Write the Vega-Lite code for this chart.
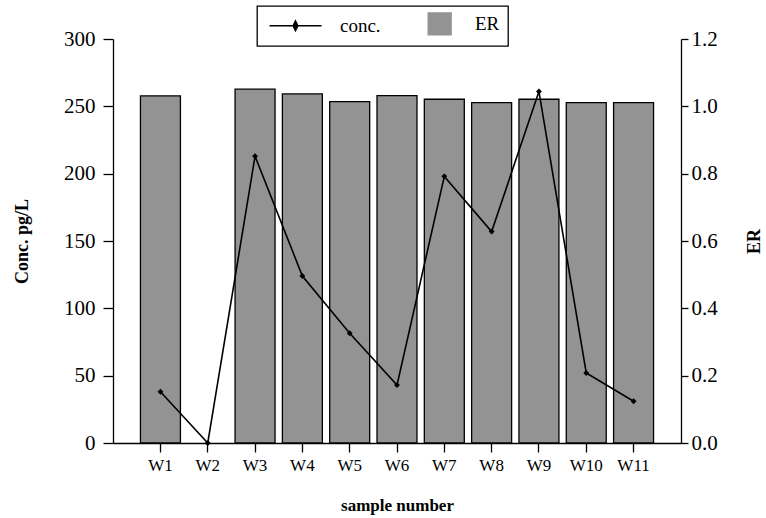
{
  "$schema": "https://vega.github.io/schema/vega-lite/v6.json",
  "width": 568,
  "height": 404,
  "autosize": {"type": "none"},
  "padding": {"left": 113, "top": 39, "right": 85, "bottom": 75},
  "background": "white",
  "config": {
    "view": {"stroke": null},
    "font": "Liberation Serif",
    "axis": {
      "grid": false,
      "domainColor": "black",
      "tickColor": "black",
      "labelColor": "black",
      "titleColor": "black",
      "domainWidth": 1.3,
      "tickWidth": 1.3,
      "labelFont": "Liberation Serif",
      "titleFont": "Liberation Serif"
    }
  },
  "data": {
    "values": [
      {"sample": "W1", "ER": 1.031, "conc": 38},
      {"sample": "W2", "ER": null, "conc": 0},
      {"sample": "W3", "ER": 1.051, "conc": 213},
      {"sample": "W4", "ER": 1.037, "conc": 124},
      {"sample": "W5", "ER": 1.014, "conc": 81.5},
      {"sample": "W6", "ER": 1.032, "conc": 43},
      {"sample": "W7", "ER": 1.021, "conc": 198},
      {"sample": "W8", "ER": 1.011, "conc": 157},
      {"sample": "W9", "ER": 1.021, "conc": 261},
      {"sample": "W10", "ER": 1.011, "conc": 52},
      {"sample": "W11", "ER": 1.011, "conc": 31}
    ]
  },
  "encoding": {
    "x": {
      "field": "sample",
      "type": "nominal",
      "sort": null,
      "scale": {
        "domain": ["W1", "W2", "W3", "W4", "W5", "W6", "W7", "W8", "W9", "W10", "W11"],
        "paddingInner": 0.155,
        "paddingOuter": 0.58
      },
      "axis": {
        "title": "sample number",
        "labelAngle": 0,
        "labelFontSize": 17,
        "labelPadding": 5,
        "tickSize": 9,
        "titleFontSize": 17,
        "titleFontWeight": "bold",
        "titlePadding": 24
      }
    }
  },
  "layer": [
    {
      "mark": {"type": "bar", "stroke": "black", "strokeWidth": 1.3},
      "encoding": {
        "y": {
          "field": "ER",
          "type": "quantitative",
          "scale": {"domain": [0, 1.2], "nice": false},
          "axis": {
            "orient": "right",
            "title": "ER",
            "values": [0, 0.2, 0.4, 0.6, 0.8, 1.0, 1.2],
            "format": ".1f",
            "labelFontSize": 21,
            "tickSize": 7,
            "labelPadding": 3,
            "titleFontSize": 18,
            "titleFontWeight": "bold",
            "titleAngle": 270,
            "titleBaseline": "top",
            "titlePadding": 28
          }
        },
        "color": {
          "datum": "ER",
          "type": "nominal",
          "scale": {"domain": ["conc.", "ER"], "range": ["black", "#939393"]},
          "legend": {
            "title": null,
            "orient": "none",
            "legendX": 144,
            "legendY": -33,
            "direction": "horizontal",
            "strokeColor": "black",
            "padding": 8,
            "labelFontSize": 19,
            "labelFont": "Liberation Serif",
            "labelColor": "black",
            "labelOffset": 56,
            "columnPadding": 19,
            "symbolSize": 100,
            "encode": {
              "legend": {"update": {"strokeWidth": {"value": 1.3}}},
              "symbols": {
                "update": {
                  "shape": {"signal": "datum.value === 'conc.' ? 'M-1,0H9.4M4.2,-1L4.7,0L4.2,1L3.7,0Z' : 'M3.73,-2.2H8.33V2.2H3.73Z'"},
                  "fill": {"signal": "datum.value === 'conc.' ? 'black' : '#939393'"},
                  "stroke": {"value": "black"},
                  "strokeWidth": {"value": 1.3},
                  "opacity": {"value": 1}
                }
              }
            }
          }
        }
      }
    },
    {
      "mark": {
        "type": "line",
        "strokeWidth": 1.6,
        "point": {"filled": true, "shape": "diamond", "size": 35}
      },
      "encoding": {
        "y": {
          "field": "conc",
          "type": "quantitative",
          "scale": {"domain": [0, 300], "nice": false},
          "axis": {
            "orient": "left",
            "title": "Conc.  pg/L",
            "values": [0, 50, 100, 150, 200, 250, 300],
            "labelFontSize": 21,
            "tickSize": 10,
            "labelPadding": 8,
            "titleFontSize": 18,
            "titleFontWeight": "bold",
            "titlePadding": 32
          }
        },
        "color": {
          "datum": "conc.",
          "type": "nominal",
          "legend": {
            "title": null,
            "orient": "none",
            "legendX": 144,
            "legendY": -33,
            "direction": "horizontal",
            "strokeColor": "black",
            "padding": 8,
            "labelFontSize": 19,
            "labelFont": "Liberation Serif",
            "labelColor": "black",
            "labelOffset": 56,
            "columnPadding": 19,
            "symbolSize": 100,
            "encode": {
              "legend": {"update": {"strokeWidth": {"value": 1.3}}},
              "symbols": {
                "update": {
                  "shape": {"signal": "datum.value === 'conc.' ? 'M-1,0H9.4M4.2,-1L4.7,0L4.2,1L3.7,0Z' : 'M3.73,-2.2H8.33V2.2H3.73Z'"},
                  "fill": {"signal": "datum.value === 'conc.' ? 'black' : '#939393'"},
                  "stroke": {"value": "black"},
                  "strokeWidth": {"value": 1.3},
                  "opacity": {"value": 1}
                }
              }
            }
          }
        }
      }
    }
  ],
  "resolve": {"scale": {"y": "independent"}}
}
